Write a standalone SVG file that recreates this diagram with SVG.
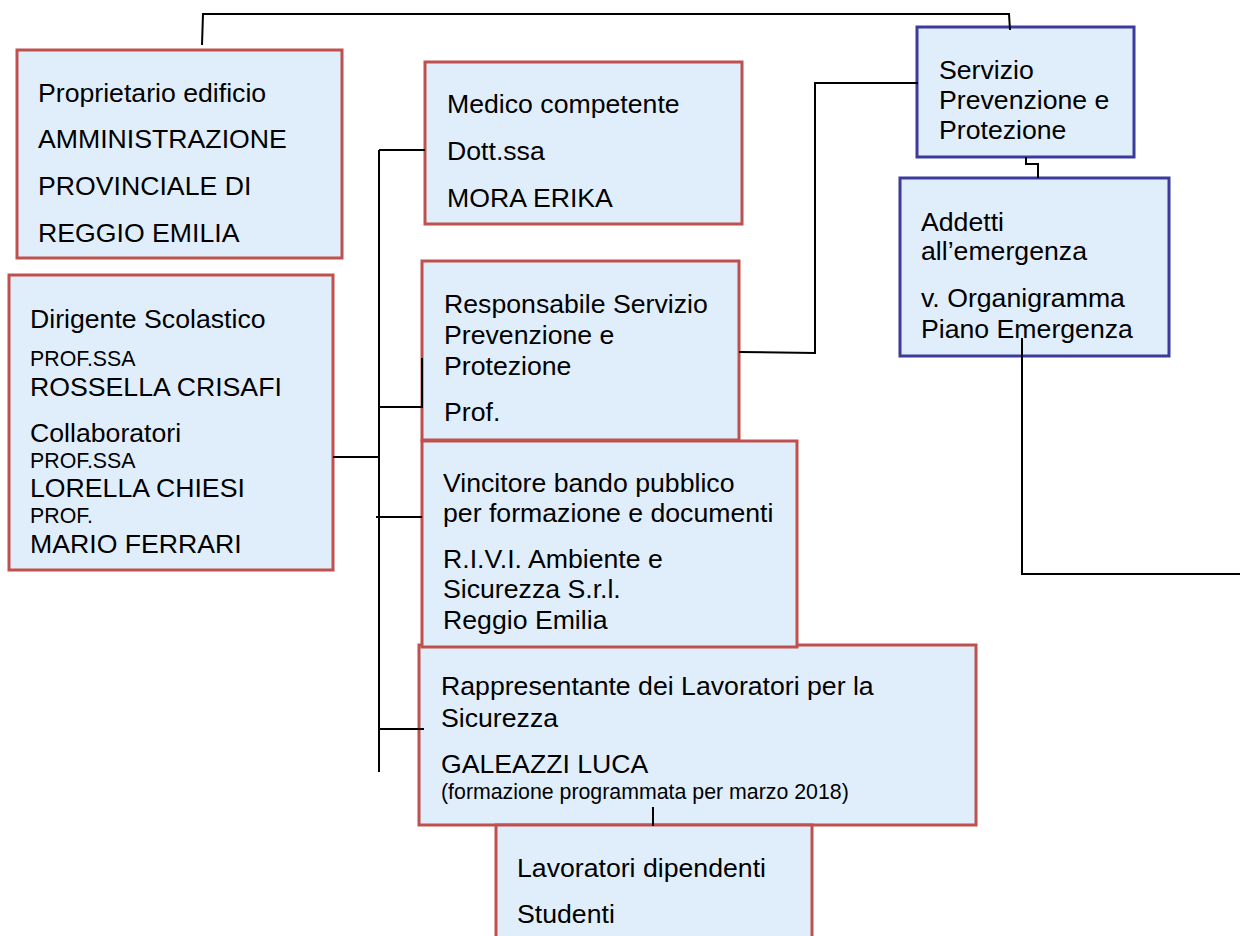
<svg xmlns="http://www.w3.org/2000/svg" width="1240" height="936" viewBox="0 0 1240 936">
<style>
.box{fill:#e0eefc;stroke:#c0504d;stroke-width:3}
.bbox{fill:#e0eefc;stroke:#3b3b9c;stroke-width:3}
text{font-family:"Liberation Sans",Arial,sans-serif;font-size:26.67px;fill:#000}
.sm{font-size:21.33px}
.con{fill:none;stroke:#000;stroke-width:2}
</style>
<rect width="1240" height="936" fill="#fff"/>
<g id="proprietario">
<rect class="box" x="17" y="50" width="325" height="208"/>
<text x="38" y="102">Proprietario edificio</text>
<text x="38" y="148">AMMINISTRAZIONE</text>
<text x="38" y="195">PROVINCIALE DI</text>
<text x="38" y="242">REGGIO EMILIA</text>
</g>
<g id="dirigente">
<rect class="box" x="9" y="275" width="324" height="295"/>
<text x="30" y="328">Dirigente Scolastico</text>
<text class="sm" x="30" y="366">PROF.SSA</text>
<text x="30" y="396">ROSSELLA CRISAFI</text>
<text x="30" y="442">Collaboratori</text>
<text class="sm" x="30" y="468">PROF.SSA</text>
<text x="30" y="497">LORELLA CHIESI</text>
<text class="sm" x="30" y="523">PROF.</text>
<text x="30" y="553">MARIO FERRARI</text>
</g>
<g id="medico">
<rect class="box" x="425" y="62" width="317" height="162"/>
<text x="447" y="113">Medico competente</text>
<text x="447" y="160">Dott.ssa</text>
<text x="447" y="207">MORA ERIKA</text>
</g>
<g id="responsabile">
<rect class="box" x="422" y="261" width="317" height="179"/>
<text x="444" y="313">Responsabile Servizio</text>
<text x="444" y="344">Prevenzione e</text>
<text x="444" y="375">Protezione</text>
<text x="444" y="421">Prof.</text>
</g>
<g id="rappresentante">
<rect class="box" x="419" y="645" width="557" height="180"/>
<text x="441" y="695">Rappresentante dei Lavoratori per la</text>
<text x="441" y="727">Sicurezza</text>
<text x="441" y="773">GALEAZZI LUCA</text>
<text class="sm" x="441" y="799">(formazione programmata per marzo 2018)</text>
</g>
<g id="vincitore">
<rect class="box" x="422" y="441" width="375" height="206"/>
<text x="443" y="492">Vincitore bando pubblico</text>
<text x="443" y="522">per formazione e documenti</text>
<text x="443" y="568">R.I.V.I. Ambiente e</text>
<text x="443" y="598">Sicurezza S.r.l.</text>
<text x="443" y="629">Reggio Emilia</text>
</g>
<g id="lavoratori">
<rect class="box" x="496" y="825" width="316" height="130"/>
<text x="517" y="877">Lavoratori dipendenti</text>
<text x="517" y="923">Studenti</text>
</g>
<g id="servizio">
<rect class="bbox" x="917" y="27" width="217" height="130"/>
<text x="939" y="79">Servizio</text>
<text x="939" y="109">Prevenzione e</text>
<text x="939" y="139">Protezione</text>
</g>
<g id="addetti">
<rect class="bbox" x="900" y="178" width="269" height="178"/>
<text x="921" y="231">Addetti</text>
<text x="921" y="260">all’emergenza</text>
<text x="921" y="307">v. Organigramma</text>
<text x="921" y="338">Piano Emergenza</text>
</g>
<g id="connectors">
<polyline class="con" points="202,45 203,14 1009,14 1010,30"/>
<path class="con" d="M333,457 H379"/>
<path class="con" d="M379,150 V772"/>
<path class="con" d="M379,150 H425"/>
<path class="con" d="M379,407 H422 V358"/>
<path class="con" d="M376,517 H422"/>
<path class="con" d="M379,729 H424"/>
<path class="con" d="M653,807 V826"/>
<polyline class="con" points="739,352 815,353 815,83 918,83"/>
<path class="con" d="M1026,157 V164 H1038 V178"/>
<path class="con" d="M1022,338 V574 H1240"/>
</g>
</svg>
